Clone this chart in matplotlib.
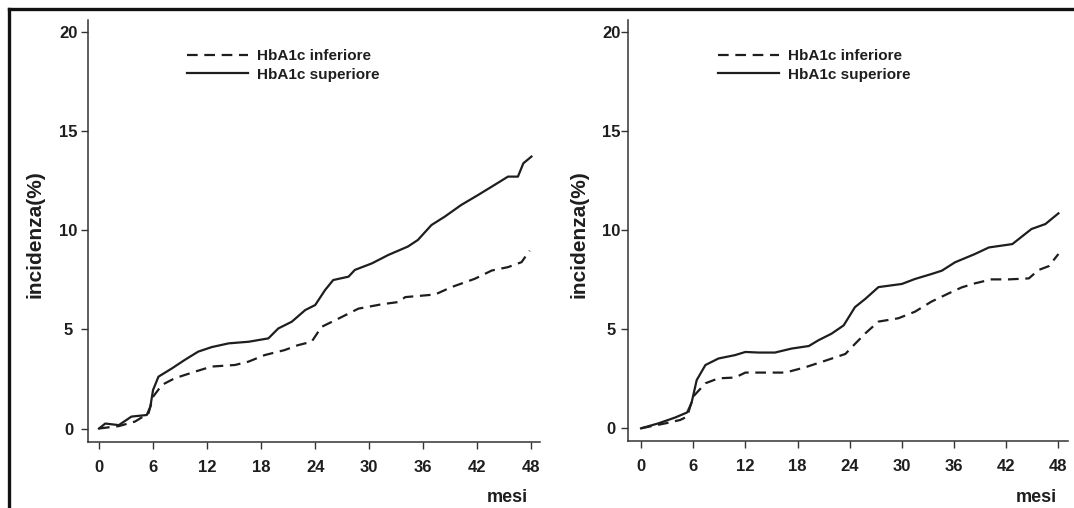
import matplotlib
matplotlib.use("Agg")
import matplotlib.pyplot as plt
from matplotlib.lines import Line2D

# ---- data (months, incidence %) ----
mesi_ticks = [0, 6, 12, 18, 24, 30, 36, 42, 48]
inc_ticks = [0, 5, 10, 15, 20]
labels = ["HbA1c inferiore", "HbA1c superiore"]

# left panel
left_sup_t = [0, 0.7, 2.2, 3.6, 5.3, 5.7, 6.0, 6.6, 8.1, 9.5, 11.0, 12.5, 14.4, 16.6, 18.8,
              19.9, 21.4, 22.9, 24.0, 25.1, 26.0, 27.7, 28.4, 30.3, 32.1, 34.3, 35.4, 36.9,
              38.4, 40.2, 42.1, 43.9, 45.4, 46.5, 47.1, 48.0]
left_sup_v = [0, 0.25, 0.17, 0.6, 0.68, 1.1, 1.94, 2.61, 3.03, 3.45, 3.87, 4.1, 4.29, 4.37, 4.54,
              5.04, 5.38, 5.97, 6.22, 6.98, 7.48, 7.65, 7.99, 8.32, 8.74, 9.17, 9.5, 10.25,
              10.68, 11.26, 11.77, 12.27, 12.69, 12.69, 13.36, 13.7]
left_inf_t = [0, 2.2, 4.0, 5.5, 6.0, 7.0, 8.4, 10.7, 12.5, 15.1, 16.6, 18.4, 20.6, 22.1, 23.6,
              24.7, 26.6, 28.8, 31.4, 33.2, 34.0, 37.3, 39.1, 41.7, 43.6, 45.4, 46.9, 47.8]
left_inf_v = [0, 0.12, 0.35, 0.77, 1.6, 2.2, 2.53, 2.87, 3.12, 3.2, 3.37, 3.7, 3.95, 4.2, 4.37,
              5.12, 5.54, 6.04, 6.26, 6.37, 6.62, 6.75, 7.12, 7.54, 7.96, 8.13, 8.38, 8.96]

# right panel
right_sup_t = [0, 2.0, 3.9, 5.3, 5.8, 6.4, 7.4, 8.9, 10.8, 12.0, 13.5, 15.4, 17.3, 19.3, 20.4,
               21.9, 23.3, 24.6, 25.8, 27.3, 30.0, 31.5, 33.4, 34.6, 36.1, 38.4, 40.0, 42.7,
               44.9, 46.5, 48.0]
right_sup_v = [0, 0.25, 0.54, 0.8, 1.27, 2.43, 3.19, 3.52, 3.69, 3.85, 3.82, 3.82, 4.02, 4.15,
               4.44, 4.77, 5.19, 6.11, 6.53, 7.12, 7.28, 7.53, 7.78, 7.95, 8.37, 8.79, 9.12,
               9.29, 10.05, 10.3, 10.84]
right_inf_t = [0, 2.8, 4.5, 5.3, 6.0, 7.4, 8.9, 10.8, 12.0, 14.3, 16.6, 18.9, 21.2, 23.5, 24.3,
               25.8, 27.3, 29.6, 31.5, 33.4, 35.4, 36.9, 38.4, 40.3, 42.3, 44.6, 45.7, 46.9, 48.0]
right_inf_v = [0, 0.25, 0.42, 0.59, 1.6, 2.27, 2.52, 2.56, 2.81, 2.81, 2.81, 3.08, 3.41, 3.75,
               4.12, 4.79, 5.38, 5.55, 5.88, 6.39, 6.81, 7.11, 7.31, 7.51, 7.51, 7.56, 7.98,
               8.18, 8.79]

W, H = 1074, 508
FONT = ["Liberation Sans", "DejaVu Sans"]
plt.rcParams["font.family"] = FONT
plt.rcParams["font.weight"] = "bold"
INK = "#1e1e1e"
DASH = (0, (4.8, 3.0))

fig = plt.figure(figsize=(W / 100, H / 100), dpi=100)

# panel geometry in pixels
panels = [
    dict(x0=88, x1=540, yb=441.7, yt=20, xlim=(-1.22, 48.95), ylim=(-0.665, 20.58),
         ypad=9.0, leg_x=187, lab_x=44,
         inf=(left_inf_t, left_inf_v), sup=(left_sup_t, left_sup_v)),
    dict(x0=628, x1=1068, yb=440.7, yt=20, xlim=(-1.5, 49.1), ylim=(-0.625, 20.59),
         ypad=7.0, leg_x=718, lab_x=588,
         inf=(right_inf_t, right_inf_v), sup=(right_sup_t, right_sup_v)),
]

for p in panels:
    ax = fig.add_axes([p["x0"] / W, 1 - p["yb"] / H, (p["x1"] - p["x0"]) / W, (p["yb"] - p["yt"]) / H])
    ax.plot(p["inf"][0], p["inf"][1], color=INK, lw=1.6, linestyle=DASH, label=labels[0])
    ax.plot(p["sup"][0], p["sup"][1], color=INK, lw=1.6, label=labels[1])

    ax.set_xlim(*p["xlim"])
    ax.set_ylim(*p["ylim"])
    ax.set_xticks(mesi_ticks)
    ax.set_yticks(inc_ticks)
    for s in ["top", "right"]:
        ax.spines[s].set_visible(False)
    for s in ["left", "bottom"]:
        ax.spines[s].set_color("#333333")
        ax.spines[s].set_linewidth(1.1)
    ax.tick_params(axis="both", direction="out", length=5, width=1.0, color="#333333",
                   labelsize=12, labelcolor=INK)
    ax.tick_params(axis="x", pad=8)
    ax.tick_params(axis="y", pad=p["ypad"])
    for t in ax.get_yticklabels():
        t.set_horizontalalignment("center")

    ax.set_ylabel("incidenza(%)", fontsize=15, fontweight="bold", color=INK)
    ax.yaxis.set_label_coords((p["lab_x"] - p["x0"]) / (p["x1"] - p["x0"]),
                              (p["yb"] - 234) / (p["yb"] - p["yt"]))
    ax.set_xlabel("mesi", fontsize=13, fontweight="bold", color=INK)
    ax.xaxis.set_label_coords(0.928, (p["yb"] - 489) / (p["yb"] - p["yt"]))
    ax.xaxis.label.set_verticalalignment("top")

    leg = ax.legend(loc="upper left",
                    bbox_to_anchor=((p["leg_x"] - p["x0"]) / (p["x1"] - p["x0"]),
                                    (p["yb"] - 49) / (p["yb"] - p["yt"])),
                    frameon=False, fontsize=11, handlelength=4.0, handletextpad=0.6,
                    labelspacing=0.3, borderpad=0, borderaxespad=0)
    for txt in leg.get_texts():
        txt.set_color(INK)

# outer frame (left and top edges only are visible in the picture)
fig.add_artist(Line2D([8.5 / W, 8.5 / W], [0, 1 - 8.5 / H], color="#111111", lw=2.4,
                      transform=fig.transFigure))
fig.add_artist(Line2D([8.5 / W, 1], [1 - 8.5 / H, 1 - 8.5 / H], color="#111111", lw=2.4,
                      transform=fig.transFigure))

fig.savefig("out.png", dpi=100, facecolor="white")
